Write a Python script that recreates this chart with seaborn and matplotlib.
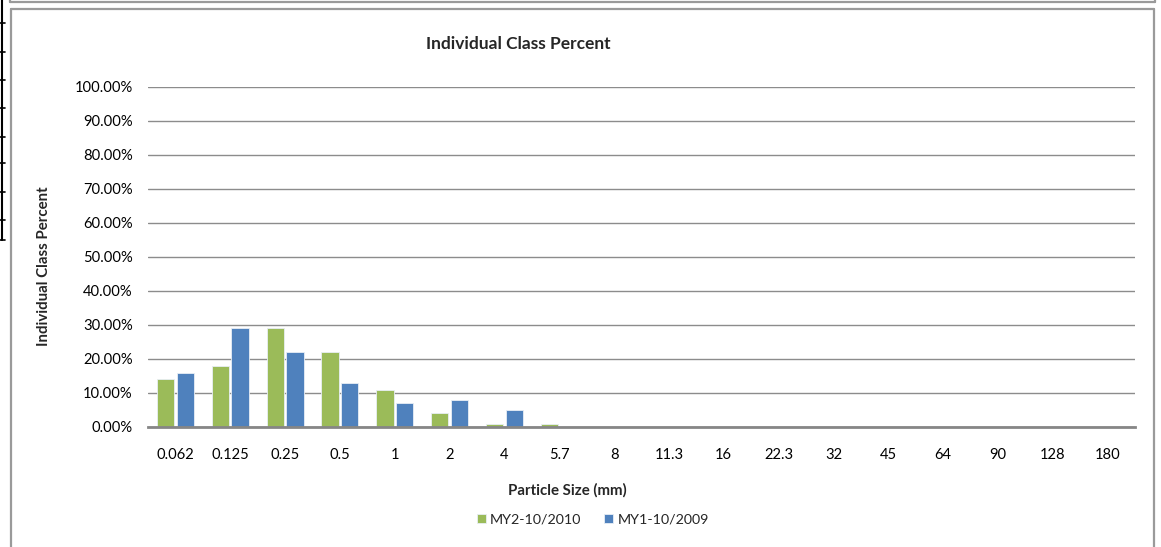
import matplotlib
matplotlib.use("Agg")
import matplotlib.pyplot as plt
from matplotlib.lines import Line2D
from matplotlib.ticker import FuncFormatter, MultipleLocator
import seaborn as sns
import pandas as pd

# Particle size classes (mm) and percent of sample in each class
sizes = ["0.062", "0.125", "0.25", "0.5", "1", "2", "4", "5.7", "8", "11.3",
         "16", "22.3", "32", "45", "64", "90", "128", "180"]
my2_2010 = [14, 18, 29, 22, 11, 4, 1, 1, 0, 0, 0, 0, 0, 0, 0, 0, 0, 0]
my1_2009 = [16, 29, 22, 13, 7, 8, 5, 0, 0, 0, 0, 0, 0, 0, 0, 0, 0, 0]
series_names = ["MY2-10/2010", "MY1-10/2009"]
series_colors = ["#9BBB59", "#4F81BD"]

df = pd.DataFrame({
    "size": sizes * 2,
    "pct": my2_2010 + my1_2009,
    "series": [series_names[0]] * len(sizes) + [series_names[1]] * len(sizes),
})

sns.set_theme(style="white")
plt.rcParams["font.family"] = ["Lato", "DejaVu Sans"]

W, H = 1161, 547
fig = plt.figure(figsize=(W / 100, H / 100), dpi=100)
fig.patch.set_facecolor("white")

def fx(px):
    return px / W

def fy(py):
    return 1 - py / H

ax = fig.add_axes([fx(148), fy(427), fx(1135) - fx(148), fy(87) - fy(427)])

sns.barplot(data=df, x="size", y="pct", hue="series", order=sizes,
            hue_order=series_names, palette=series_colors, saturation=1,
            width=0.72, gap=0.12, edgecolor="#e8eef5", linewidth=0.6, ax=ax,
            legend=True, zorder=3)

ax.set_ylim(0, 100)
ax.set_xlim(-0.5, len(sizes) - 0.5)
ax.yaxis.set_major_locator(MultipleLocator(10))
ax.yaxis.set_major_formatter(FuncFormatter(lambda v, p: f"{v:.2f}%"))
ax.grid(axis="y", color="#8c8c8c", linewidth=1.0, zorder=0)
ax.set_axisbelow(True)
for side in ["top", "right", "left"]:
    ax.spines[side].set_visible(False)
ax.spines["bottom"].set_color("#868686")
ax.spines["bottom"].set_linewidth(2.0)
ax.spines["bottom"].set_zorder(4)
ax.tick_params(axis="both", length=0, labelsize=10.6, colors="#000000")
ax.tick_params(axis="y", pad=11)
ax.tick_params(axis="x", pad=15)
ax.set_xlabel("")
ax.set_ylabel("")

# Titles
fig.text(fx(518), fy(44), "Individual Class Percent", ha="center", va="center",
         fontsize=12.5, fontweight="bold")
fig.text(fx(44), fy(266), "Individual Class Percent", ha="center", va="center",
         rotation=90, fontsize=10.8, fontweight="bold")
fig.text(fx(567), fy(490), "Particle Size (mm)", ha="center", va="center",
         fontsize=10.8, fontweight="bold")

# Legend below the axis title
handles, labels = ax.get_legend_handles_labels()
ax.legend_.remove()
fig.legend(handles, labels, loc="center", bbox_to_anchor=(fx(593), fy(520)),
           ncol=2, frameon=False, fontsize=10.3, handlelength=0.6,
           handleheight=0.6, handletextpad=0.3, columnspacing=1.6)

# Chart frame and surrounding page rules
gray = "#9a9a9a"
frame = [
    ([11, 11], [9, 547]),
    ([11, 1154], [9, 9]),
    ([1154, 1154], [9, 547]),
    ([10, 1155], [2, 2]),
    ([10, 10], [0, 2]),
    ([1155, 1155], [0, 2]),
]
for xs, ys in frame:
    fig.add_artist(Line2D([fx(x) for x in xs], [fy(y) for y in ys],
                          color=gray, linewidth=1.6))

fig.add_artist(Line2D([fx(2), fx(2)], [fy(0), fy(240)], color="black",
                      linewidth=1.5))
for ty in [23, 52, 80, 108, 137, 163, 192, 220, 240]:
    fig.add_artist(Line2D([fx(0), fx(5)], [fy(ty), fy(ty)], color="black",
                          linewidth=1.2))

fig.savefig("out.png", dpi=100, facecolor="white")
